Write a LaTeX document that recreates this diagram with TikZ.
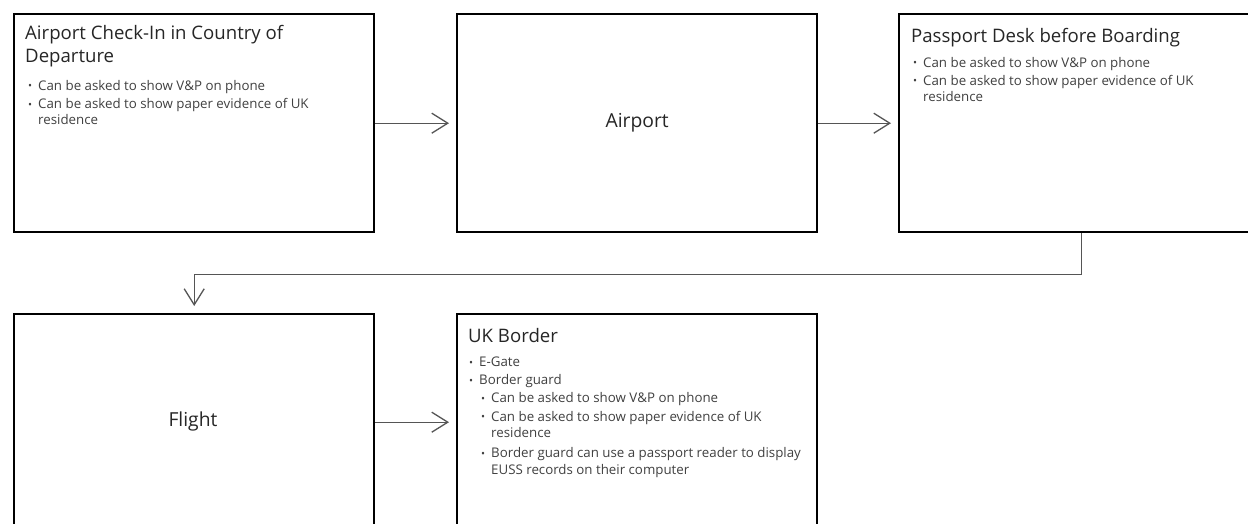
\documentclass[tikz,border=0pt]{standalone}
\usepackage{fontspec}
\setmainfont{Open Sans}
\usetikzlibrary{arrows.meta}
\definecolor{titlecol}{HTML}{262626}
\definecolor{bodycol}{HTML}{404040}
\definecolor{linecol}{HTML}{555555}
\newcommand{\bul}{\makebox[10pt][l]{\raisebox{0.5pt}{\scalebox{0.8}{\textbullet}}}}
\newcommand{\hang}{\hspace*{10pt}}
\begin{document}
\begin{tikzpicture}[x=1pt,y=-1pt,
  box/.style={draw=black, line width=2.4pt, inner sep=0pt, anchor=north west},
  ttl/.style={anchor=base west, inner sep=0pt, text=titlecol, align=left,
    font=\fontsize{18.6}{23}\selectfont},
  body/.style={anchor=base west, inner sep=0pt, text=bodycol, align=left,
    font=\fontsize{13.3}{16.5}\selectfont},
  mid/.style={text=titlecol, inner sep=0pt, font=\fontsize{19.3}{23}\selectfont},
  conn/.style={draw=linecol, line width=1.3pt,
    -{Straight Barb[length=16pt,width=20pt,line width=1.3pt]}, shorten >=7pt}]
\useasboundingbox (0,0) rectangle (1248,524);
\clip (0,0) rectangle (1248,524);
\fill[white] (0,0) rectangle (1248,524);

\node[box, minimum width=360pt, minimum height=218pt] (b1) at (13,13) {};
\node[box, minimum width=360pt, minimum height=218pt] (b2) at (456,13) {};
\node[box, minimum width=364pt, minimum height=218pt] (b3) at (898,13) {};
\node[box, minimum width=360pt, minimum height=216pt] (b4) at (13,313) {};
\node[box, minimum width=360pt, minimum height=216pt] (b5) at (456,313) {};

% box 1
\node[ttl] (t1) at (25,63) {Airport Check-In in Country of\\Departure};
\node[body] (l1) at (28,125) {\bul Can be asked to show V\&P on phone\\[1.5pt]
  \bul Can be asked to show paper evidence of UK\\\hang residence};

% box 2
\node[mid] (t2) at (b2.center) {Airport};

% box 3
\node[ttl] (t3) at (911,43) {Passport Desk before Boarding};
\node[body] (l3) at (913,102) {\bul Can be asked to show V\&P on phone\\[1.5pt]
  \bul Can be asked to show paper evidence of UK\\\hang residence};

% box 4
\node[mid] (t4) at (193,421) {Flight};

% box 5
\node[ttl] (t5) at (468,342) {UK Border};
\node[body] (l5) at (469,474) {\bul E-Gate\\[1.5pt]
  \bul Border guard\\[1.5pt]
  \hspace*{12pt}\bul Can be asked to show V\&P on phone\\[2pt]
  \hspace*{12pt}\bul Can be asked to show paper evidence of UK\\\hspace*{12pt}\hang residence\\[3.5pt]
  \hspace*{12pt}\bul Border guard can use a passport reader to display\\\hspace*{12pt}\hang EUSS records on their computer};

% connectors
\draw[conn] (b1.east) -- (b2.west);
\draw[conn] (b2.east) -- (b3.west);
\draw[conn] (b4.east) -- (b5.west);
\draw[conn] (b3.south) -- ++(0,41) -| (b4.north);
\end{tikzpicture}
\end{document}
